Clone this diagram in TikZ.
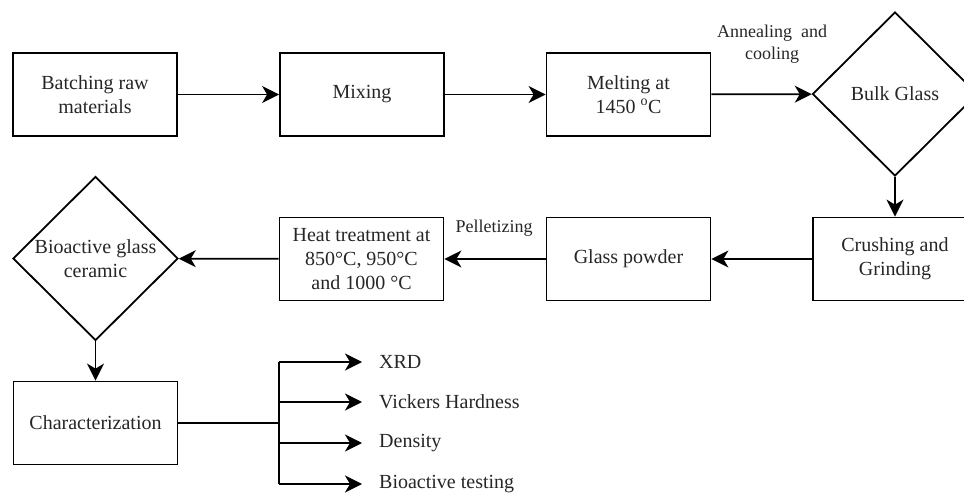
\documentclass[tikz,border=0pt]{standalone}
\usepackage{fontspec}
\setmainfont{Liberation Serif}
\usetikzlibrary{arrows.meta,shapes.geometric}
\begin{document}
\begin{tikzpicture}[x=1pt,y=-1pt,
  box/.style={draw=black, line width=1.8pt, minimum width=164pt, minimum height=83pt, inner sep=2pt, align=center, text=black!85, font=\fontsize{20}{24}\selectfont},
  dia/.style={draw=black, line width=1.8pt, shape=diamond, minimum width=165pt, minimum height=164pt, inner sep=0pt},
  dtext/.style={align=center, text=black!85, font=\fontsize{20}{24}\selectfont, inner sep=0pt},
  lbl/.style={align=center, text=black!85, font=\fontsize{18}{22}\selectfont, inner sep=0pt},
  outtext/.style={anchor=west, text=black!85, font=\fontsize{20}{24}\selectfont, inner sep=0pt},
  arr/.style={line width=1.8pt, -{Stealth[length=17pt, width=17pt, inset=5pt]}},
  ln/.style={line width=1.8pt}
]
\useasboundingbox (0,0) rectangle (964,494);

% top row
\node[box] (batch) at (95,94.5) {Batching raw\\materials};
\node[box] (mix) at (362,94.5) {Mixing};
\node[box] (melt) at (628.5,94.5) {Melting at\\1450 \textsuperscript{o}C};
\node[dia] (bulk) at (895,94) {};
\node[dtext] (bulkt) at (bulk.center) {Bulk Glass};

% middle row
\node[box] (crush) at (895,259) {Crushing and\\Grinding};
\node[box] (powder) at (628.5,259) {Glass powder};
\node[box] (heat) at (361.5,259) {Heat treatment at\\850°C, 950°C\\and 1000 °C};
\node[dia] (bgc) at (95.5,258.5) {};
\node[dtext] (bgct) at (bgc.center) {Bioactive glass\\ceramic};

% bottom
\node[box] (char) at (95.5,423) {Characterization};

% labels
\node[lbl] (anneal) at (772,44) {Annealing\ \ and\\cooling};
\node[lbl] (pellet) at (494,228) {Pelletizing};

% main flow
\draw[arr] (batch) -- (mix);
\draw[arr] (mix) -- (melt);
\draw[arr] (melt) -- (bulk);
\draw[arr] (bulk) -- (crush);
\draw[arr] (crush) -- (powder);
\draw[arr] (powder) -- (heat);
\draw[arr] (heat) -- (bgc);
\draw[arr] (bgc) -- (char);

% characterization outputs
\coordinate (bus) at (279,423);
\coordinate (b1) at (279,362);
\coordinate (b2) at (279,402);
\coordinate (b3) at (279,443);
\coordinate (b4) at (279,484);
\node[outtext] (xrd) at (379,362) {XRD};
\node[outtext] (vick) at (379,402) {Vickers Hardness};
\node[outtext] (dens) at (379,443) {Density};
\node[outtext] (bio) at (379,484) {Bioactive testing};

\draw[ln] (char.east) -- (bus);
\draw[ln] (b1) -- (b4);
\draw[arr, shorten >=17pt] (b1) -- (xrd);
\draw[arr, shorten >=17pt] (b2) -- (vick);
\draw[arr, shorten >=17pt] (b3) -- (dens);
\draw[arr, shorten >=17pt] (b4) -- (bio);
\end{tikzpicture}
\end{document}
